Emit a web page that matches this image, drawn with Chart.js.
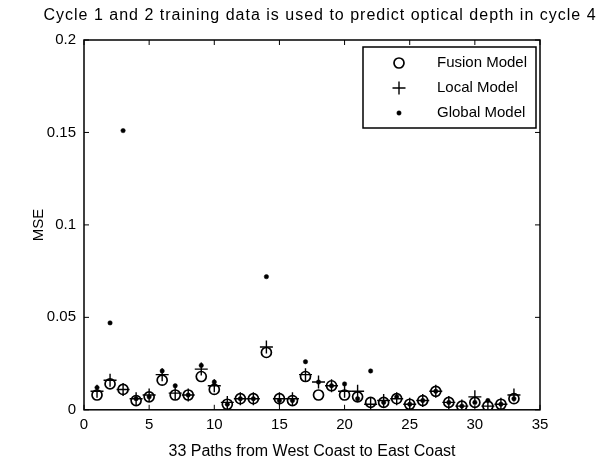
<!DOCTYPE html>
<html>
<head>
<meta charset="utf-8">
<script src="https://cdn.jsdelivr.net/npm/chart.js@4"></script>
<style>
  html, body { margin: 0; padding: 0; background: #fff; }
  #wrap { width: 599px; height: 462px; }
</style>
</head>
<body>
<div id="wrap"><canvas id="mse"></canvas></div>
<script>
// 33 paths, west coast -> east coast
const paths = Array.from({ length: 33 }, (_, i) => i + 1);
const fusionMSE = [0.008, 0.014, 0.011, 0.005, 0.007, 0.016, 0.008, 0.008, 0.018, 0.011,
  0.003, 0.006, 0.006, 0.031, 0.006, 0.005, 0.018, 0.008, 0.013, 0.008,
  0.007, 0.004, 0.004, 0.006, 0.003, 0.005, 0.010, 0.004, 0.002, 0.004,
  0.002, 0.003, 0.006];
const localMSE = [0.010, 0.016, 0.011, 0.006, 0.008, 0.019, 0.009, 0.008, 0.022, 0.013,
  0.004, 0.006, 0.006, 0.034, 0.006, 0.006, 0.019, 0.015, 0.013, 0.010,
  0.010, 0.003, 0.005, 0.006, 0.003, 0.005, 0.010, 0.004, 0.002, 0.007,
  0.002, 0.003, 0.008];
const globalMSE = [0.012, 0.047, 0.151, 0.006, 0.007, 0.021, 0.013, 0.008, 0.024, 0.015,
  0.003, 0.006, 0.006, 0.072, 0.005, 0.005, 0.026, 0.015, 0.013, 0.014,
  0.006, 0.021, 0.004, 0.007, 0.003, 0.005, 0.010, 0.004, 0.002, 0.004,
  0.005, 0.003, 0.006];
const xTicks = [0, 5, 10, 15, 20, 25, 30, 35];
const yTicks = [0, 0.05, 0.1, 0.15, 0.2];
const chartTitle = 'Cycle 1 and 2 training data is used to predict optical depth in cycle 4';

const FONT = '"Liberation Sans", Arial, sans-serif';

function pts(vals) {
  return vals.map((v, i) => ({ x: paths[i], y: v }));
}

// matlab-like box with inward ticks, plus the title
const boxAxes = {
  id: 'boxAxes',
  afterDraw(chart) {
    const { ctx, chartArea: a, scales } = chart;
    ctx.save();
    ctx.strokeStyle = '#000';
    ctx.lineWidth = 1.5;
    ctx.strokeRect(a.left, a.top, a.right - a.left, a.bottom - a.top);
    ctx.lineWidth = 1;
    ctx.beginPath();
    const len = 5;
    xTicks.forEach(t => {
      const px = scales.x.getPixelForValue(t);
      ctx.moveTo(px, a.bottom); ctx.lineTo(px, a.bottom - len);
      ctx.moveTo(px, a.top); ctx.lineTo(px, a.top + len);
    });
    yTicks.forEach(t => {
      const py = scales.y.getPixelForValue(t);
      ctx.moveTo(a.left, py); ctx.lineTo(a.left + len, py);
      ctx.moveTo(a.right, py); ctx.lineTo(a.right - len, py);
    });
    ctx.stroke();

    ctx.fillStyle = '#000';
    ctx.font = '16px ' + FONT;
    ctx.letterSpacing = '1px';
    ctx.textAlign = 'center';
    ctx.textBaseline = 'middle';
    ctx.fillText(chartTitle, 320, 16);
    ctx.restore();
  }
};

// legend box in upper right
const boxLegend = {
  id: 'boxLegend',
  afterDraw(chart) {
    const { ctx, chartArea: a } = chart;
    const x0 = 363, y0 = a.top + 7, w = a.right - 4 - x0, h = 81;
    ctx.save();
    ctx.fillStyle = '#fff';
    ctx.fillRect(x0, y0, w, h);
    ctx.strokeStyle = '#000';
    ctx.lineWidth = 1.5;
    ctx.strokeRect(x0, y0, w, h);
    ctx.font = '15px ' + FONT;
    ctx.textBaseline = 'middle';
    chart.data.datasets.forEach((ds, i) => {
      const cy = y0 + 16 + i * 25;
      ctx.strokeStyle = ds.borderColor;
      ctx.fillStyle = ds.backgroundColor;
      ctx.lineWidth = ds.borderWidth;
      Chart.helpers.drawPoint(ctx, {
        pointStyle: ds.pointStyle, radius: ds.pointRadius, borderWidth: ds.borderWidth
      }, 399, cy);
      ctx.fillStyle = '#000';
      ctx.fillText(ds.label, 437, cy);
    });
    ctx.restore();
  }
};

new Chart(document.getElementById('mse'), {
  type: 'scatter',
  data: {
    datasets: [
      { label: 'Fusion Model', data: pts(fusionMSE), pointStyle: 'circle', pointRadius: 5,
        borderColor: '#000', backgroundColor: 'rgba(0,0,0,0)', borderWidth: 1.7 },
      { label: 'Local Model', data: pts(localMSE), pointStyle: 'cross', pointRadius: 6.5,
        borderColor: '#000', backgroundColor: '#000', borderWidth: 1.4 },
      { label: 'Global Model', data: pts(globalMSE), pointStyle: 'circle', pointRadius: 2.2,
        borderColor: '#000', backgroundColor: '#000', borderWidth: 0.5 }
    ]
  },
  options: {
    responsive: true,
    maintainAspectRatio: false,
    animation: false,
    layout: { padding: { left: 30, right: 59, top: 40, bottom: 1 } },
    plugins: {
      legend: { display: false },
      tooltip: { enabled: false },
      title: { display: false }
    },
    scales: {
      x: {
        type: 'linear', min: 0, max: 35,
        afterBuildTicks: s => { s.ticks = xTicks.map(v => ({ value: v })); },
        grid: { display: false, drawTicks: false },
        border: { display: false },
        ticks: { color: '#000', font: { family: FONT, size: 15 }, padding: 6, maxRotation: 0 },
        title: { display: true, text: '33 Paths from West Coast to East Coast', color: '#000',
          font: { family: FONT, size: 16 }, padding: { top: 2, bottom: 0 } }
      },
      y: {
        type: 'linear', min: 0, max: 0.2,
        afterBuildTicks: s => { s.ticks = yTicks.map(v => ({ value: v })); },
        afterFit: s => { s.width = 54; },
        grid: { display: false, drawTicks: false },
        border: { display: false },
        ticks: { color: '#000', font: { family: FONT, size: 15 }, padding: 8,
          callback: v => String(v) },
        title: { display: true, text: 'MSE', color: '#000',
          font: { family: FONT, size: 15 }, padding: { top: 0, bottom: 0 } }
      }
    }
  },
  plugins: [boxAxes, boxLegend]
});
</script>
</body>
</html>
